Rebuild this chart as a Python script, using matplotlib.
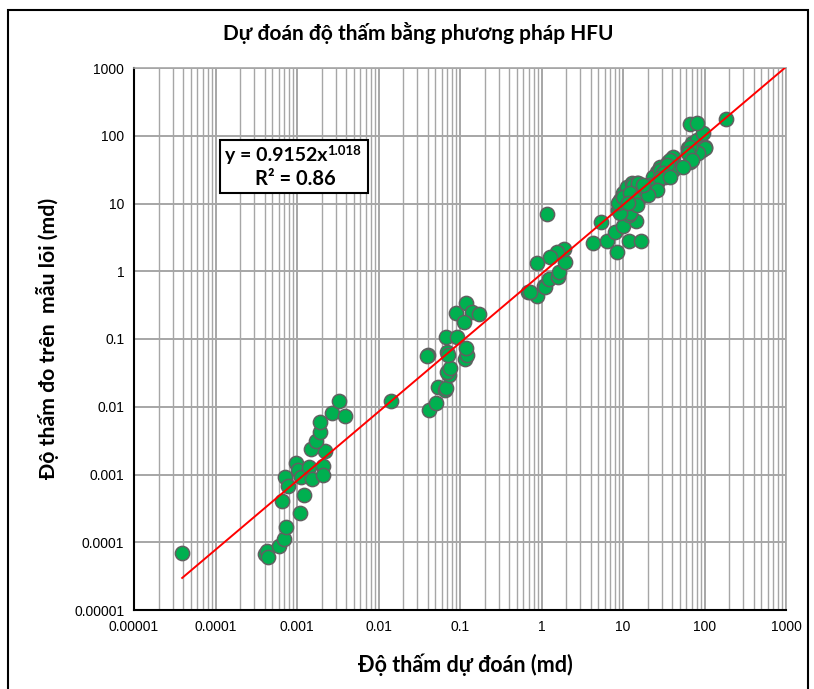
import numpy as np
import matplotlib
matplotlib.use("Agg")
import matplotlib.pyplot as plt
from matplotlib.patches import Rectangle
from matplotlib.ticker import FixedLocator, NullFormatter, LogLocator

k_pred = [3.9e-5, 4.05e-4, 4.25e-4, 4.37e-4, 6.07e-4, 6.9e-4, 7.3e-4, 6.5e-4, 1.10e-3, 1.22e-3,
          7.1e-4, 7.8e-4, 9.6e-4, 1.04e-3, 1.12e-3, 1.39e-3, 1.53e-3, 2.10e-3, 2.10e-3, 2.21e-3,
          1.49e-3, 1.69e-3, 1.90e-3, 1.90e-3, 2.67e-3, 3.3e-3, 3.9e-3, 1.42e-2,
          0.0417, 0.0508, 0.0532, 0.0655, 0.0673, 0.0733, 0.0687, 0.0754, 0.0408, 0.039,
          0.0687, 0.0718, 0.0673, 0.0927, 0.115, 0.123, 0.119, 0.0893, 0.1175, 0.1416, 0.171, 0.113,
          0.689, 0.873, 1.08, 0.723, 1.10, 1.25, 1.61, 1.64, 1.94, 1.89, 1.54, 1.27, 0.888, 1.16,
          4.33, 6.42, 8.51, 11.9, 16.8, 5.37, 7.98, 10.1, 14.3, 11.9, 8.75, 9.18, 10.1, 11.1,
          12.8, 14.7, 13.8, 17.7, 24.7, 25.9, 28.4, 36.0, 41.4, 37.7, 32.8, 66.4, 63.3, 69.6,
          80.2, 92.4, 101, 96.6, 66.4, 80.2, 184,
          12.2, 9.18, 8.75, 10.1, 13.4, 15.4, 12.2, 16.2, 14.7, 11.6, 23.5, 28.4, 36.0, 41.4,
          21.4, 18.6, 25.9, 101, 84, 66.4, 63.3, 69.6, 55, 37.7, 34.4, 31.3, 28.4, 37.7, 25.9,
          20.4, 17.7]
k_core = [7.0e-5, 6.7e-5, 7.4e-5, 6.05e-5, 8.8e-5, 1.13e-4, 1.68e-4, 4.0e-4, 2.7e-4, 5.0e-4,
          9.1e-4, 6.8e-4, 1.46e-3, 1.16e-3, 9.1e-4, 1.28e-3, 8.6e-4, 1.33e-3, 9.7e-4, 2.24e-3,
          2.35e-3, 3.09e-3, 4.3e-3, 5.96e-3, 8.2e-3, 1.23e-2, 7.4e-3, 1.23e-2,
          0.00895, 0.0115, 0.0194, 0.0177, 0.0191, 0.0291, 0.0329, 0.037, 0.058, 0.0561,
          0.0649, 0.058, 0.106, 0.106, 0.0501, 0.058, 0.073, 0.239, 0.343, 0.248, 0.232, 0.18,
          0.489, 0.435, 0.605, 0.50, 0.59, 0.77, 0.83, 0.985, 1.38, 2.13, 1.94, 1.61, 1.31, 7.0,
          2.59, 2.83, 1.91, 2.83, 2.83, 5.27, 3.84, 4.7, 5.57, 6.76, 8.0, 11.3, 14.2, 17.7,
          19.9, 19.9, 11.3, 13.3, 21.0, 29.5, 34.9, 41.4, 49.1, 29.5, 24.9, 41.4, 65.3, 77.4,
          86.6, 61.7, 68.9, 109, 148, 153, 177,
          7.16, 7.16, 10.1, 12.6, 18.7, 19.9, 14.2, 12.6, 9.5, 10.1, 24.9, 31.2, 39.2, 31.2,
          18.7, 15.8, 19.9, 65.3, 55, 68.9, 55, 43.9, 34.9, 43.9, 37, 27.9, 23.6, 24.9, 15.8,
          13.3, 18.7]

# power-law trend from the chart: y = 0.9152 x^1.018
fit_a = 0.9152
fit_b = 1.018
fit_r2 = 0.86

decades = [1e-5, 1e-4, 1e-3, 1e-2, 1e-1, 1, 10, 100, 1000]
decade_labels = ['0.00001', '0.0001', '0.001', '0.01', '0.1', '1', '10', '100', '1000']

bold_font = ['Lato', 'Noto Sans', 'DejaVu Sans']
tick_font = ['Liberation Sans', 'DejaVu Sans']

fig = plt.figure(figsize=(8.14, 6.89), dpi=100)
ax = fig.add_axes([134/814, 1-610/689, 652/814, 542/689])

ax.set_xscale('log')
ax.set_yscale('log')
ax.set_xlim(1e-5, 1000)
ax.set_ylim(1e-5, 1000)

# grid: x major+minor, y only decades
ax.xaxis.set_major_locator(FixedLocator(decades))
ax.yaxis.set_major_locator(FixedLocator(decades))
ax.xaxis.set_minor_locator(LogLocator(base=10, subs=np.arange(2, 10), numticks=50))
ax.yaxis.set_minor_locator(FixedLocator([]))
ax.xaxis.set_minor_formatter(NullFormatter())
ax.set_xticklabels(decade_labels, family=tick_font, fontsize=10)
ax.set_yticklabels(decade_labels, family=tick_font, fontsize=10)
ax.grid(which='major', axis='both', color='#a6a6a6', linewidth=1.4)
ax.grid(which='minor', axis='x', color='#a6a6a6', linewidth=1.0)
ax.tick_params(which='both', length=0, pad=7)
ax.set_axisbelow(True)

for side in ['top', 'right']:
    ax.spines[side].set_color('#a6a6a6')
    ax.spines[side].set_linewidth(1.2)
for side in ['left', 'bottom']:
    ax.spines[side].set_color('black')
    ax.spines[side].set_linewidth(1.5)

ax.scatter(k_pred, k_core, s=105, facecolor='#00b050', edgecolor='#606060',
           linewidth=1.1, zorder=3)

xfit = np.logspace(np.log10(min(k_pred)), 3, 100)
ax.plot(xfit, fit_a * xfit ** fit_b, color='red', linewidth=1.4, zorder=4)

# equation box
ax.add_patch(Rectangle((0.132, 0.769), 0.227, 0.098, transform=ax.transAxes,
                       facecolor='white', edgecolor='black', linewidth=1.5, zorder=5))
eq = ax.text(0.2965, 0.838, 'y = %.4fx' % fit_a, transform=ax.transAxes, ha='right',
             va='center', fontsize=14, fontweight='bold', family=bold_font, zorder=6)
ax.annotate('%.3f' % fit_b, xy=(1.0, 0.8), xycoords=eq, ha='left', va='center',
            fontsize=9.5, fontweight='bold', family=bold_font, zorder=6)
ax.text(0.248, 0.795, 'R² = %.2f' % fit_r2, transform=ax.transAxes, ha='center',
        va='center', fontsize=14.5, fontweight='bold', family=bold_font, zorder=6)

fig.text(418/814, 1-33/689, 'Dự đoán độ thấm bằng phương pháp HFU', ha='center', va='center',
         fontsize=15, fontweight='bold', family=bold_font)
fig.text(465/814, 1-665/689, 'Độ thấm dự đoán (md)', ha='center', va='center',
         fontsize=15.5, fontweight='bold', family=bold_font)
fig.text(48/814, 1-338/689, 'Độ thấm đo trên  mẫu lõi (md)', ha='center', va='center',
         rotation=90, fontsize=15.3, fontweight='bold', family=bold_font)

# outer chart border
fig.patches.append(Rectangle((8/814, -0.02), 800/814, 1.02 - 10/689, transform=fig.transFigure,
                             fill=False, edgecolor='black', linewidth=1.5))

fig.savefig('out.png', dpi=100)
